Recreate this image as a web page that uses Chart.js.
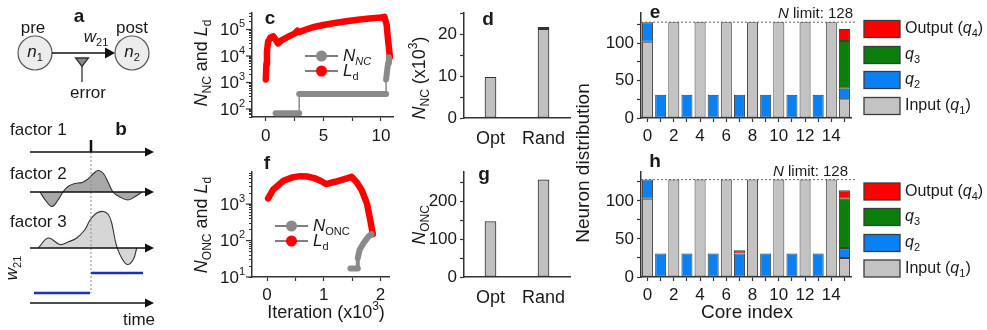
<!DOCTYPE html>
<html><head><meta charset="utf-8"><title>Neuron mapping figure</title>
<script src="https://cdn.jsdelivr.net/npm/chart.js@4.4.1/dist/chart.umd.min.js"></script>
<style>
html,body{margin:0;padding:0;background:#fff;}
#wrap{position:relative;width:987px;height:330px;overflow:hidden;background:#fff;}
#wrap canvas{position:absolute;}
</style></head><body>
<div id="wrap">
 <canvas id="cAB" width="190" height="330" style="left:0px;top:0px"></canvas>
 <canvas id="cC" width="215" height="160" style="left:190px;top:0px"></canvas>
 <canvas id="cF" width="215" height="180" style="left:190px;top:150px"></canvas>
 <canvas id="cD" width="175" height="160" style="left:405px;top:0px"></canvas>
 <canvas id="cG" width="175" height="180" style="left:405px;top:150px"></canvas>
 <canvas id="cE" width="422" height="160" style="left:565px;top:0px"></canvas>
 <canvas id="cH" width="422" height="255" style="left:565px;top:75px"></canvas>
</div>
<script>
// ================= DATA =================
// panel b schematic curves (time units, amplitude units)
const f2Time = [1.0, 1.6, 2.2, 2.8, 3.3, 3.8, 4.5, 5.2, 5.8, 6.3, 6.8, 7.3, 7.8, 8.3, 8.9, 9.8, 10.6, 11.2];
const f2Amp  = [0, -0.9, -1.45, -0.8, 0, 0.55, 0.85, 0.95, 1.3, 1.8, 2.15, 1.9, 1.0, 0, -0.45, -0.8, -0.4, 0];
const f3Time = [0.83, 1.83, 3.0, 3.8, 4.67, 5.5, 6.0, 6.67, 7.33, 7.83, 8.17, 8.5, 8.73, 9.17, 9.73, 10.33, 10.67];
const f3Amp  = [0, 1.0, 0.35, 0.6, 1.0, 1.85, 2.8, 3.5, 3.65, 3.35, 2.5, 0.85, 0, -1.0, -1.65, -1.15, 0];
const f1SpikeTime = [6.1, 6.1];
const f1SpikeAmp  = [0, 1.2];
const w21Time = [0.4, 6.0, 6.1, 11.3];
const w21Val  = [1.0, 1.0, 3.0, 3.0];

// panel c (iteration x10^3)
const cIterLd = [0, 0.05, 0.1, 0.2, 0.4, 0.65, 0.85, 1.05, 1.4, 2.0, 2.5, 2.75, 2.9, 3.5, 4.2, 5, 6, 7, 8, 9, 10, 10.3, 10.5, 10.6, 10.7, 10.78];
const cLd     = [1300, 5000, 15000, 35000, 50000, 55000, 42000, 30000, 40000, 55000, 70000, 90000, 80000, 100000, 125000, 148000, 175000, 205000, 235000, 260000, 283000, 300000, 150000, 50000, 20000, 9000];
const cIterNC = [0.85, 2.9, 2.9, 10.45, 10.45, 10.55, 10.63, 10.7];
const cNNC    = [70, 70, 370, 370, 1300, 3000, 5500, 9000];

// panel f
const fIterLd = [0.02, 0.11, 0.29, 0.45, 0.58, 0.72, 0.85, 0.95, 1.04, 1.2, 1.35, 1.49, 1.58, 1.67, 1.76, 1.82, 1.865];
const fLd     = [1440, 2530, 4350, 5400, 5850, 5700, 5050, 4300, 3550, 4100, 4800, 5600, 4000, 2400, 1050, 365, 150];
const fIterONC = [1.47, 1.6, 1.6, 1.63, 1.7, 1.79, 1.84];
const fNONC    = [17, 17, 33, 55, 84, 130, 150];

// panels d, g
const methods = ['Opt', 'Rand'];
const dNNC  = [9.7, 21.6];     // x10^3
const gNONC = [147, 257];

// panels e, h
const cores = [0,1,2,3,4,5,6,7,8,9,10,11,12,13,14,15];
const nLimit = 128;
const eInput  = [102, null, 128, null, 128, null, 128, null, 128, null, 128, null, 128, null, 128, 25];
const eQ2     = [26, 31, null, 31, null, 31, null, 31, null, 31, null, 31, null, 31, null, 14];
const eQ3     = [null, null, null, null, null, null, null, null, null, null, null, null, null, null, null, 64];
const eOutput = [null, null, null, null, null, null, null, null, null, null, null, null, null, null, null, 16];
const hInput  = [103, null, 128, null, 128, null, 128, null, 128, null, 128, null, 128, null, 128, 25];
const hQ2     = [25, 31, null, 31, null, 31, null, 31, null, 31, null, 31, null, 31, null, 13];
const hQ3     = [null, null, null, null, null, null, null, null, null, null, null, null, null, null, null, 65];
const hOutput = [null, null, null, null, null, null, null, 4, null, null, null, null, null, null, null, 11];

// ================= HELPERS =================
const FONT = "'Liberation Sans', Arial, Helvetica, sans-serif";
Chart.defaults.font.family = FONT;
Chart.defaults.color = '#1a1a1a';
Chart.defaults.animation = false;
Chart.defaults.responsive = false;
Chart.defaults.plugins.legend.display = false;
Chart.defaults.plugins.tooltip.enabled = false;

function T(t, o) { return Object.assign({t: t}, o || {}); }
function drawRich(ctx, parts, x, y, o) {
  o = o || {};
  const size = o.size || 16;
  ctx.save();
  ctx.translate(x, y);
  if (o.rot) ctx.rotate(o.rot);
  const segs = parts.map(p => {
    const s = (p.sub || p.sup) ? Math.round(size * 0.66) : size;
    const font = (p.i ? 'italic ' : '') + ((p.b || o.bold) ? 'bold ' : '') + s + 'px ' + FONT;
    ctx.font = font;
    return {t: p.t, font: font, w: ctx.measureText(p.t).width, dy: p.sub ? size * 0.34 : (p.sup ? -size * 0.36 : 0)};
  });
  const total = segs.reduce((a, s) => a + s.w, 0);
  let sx = o.align === 'center' ? -total / 2 : (o.align === 'right' ? -total : 0);
  ctx.fillStyle = o.color || '#1a1a1a';
  ctx.textBaseline = 'middle';
  ctx.textAlign = 'left';
  segs.forEach(s => { ctx.font = s.font; ctx.fillText(s.t, sx, s.dy); sx += s.w; });
  ctx.restore();
}
function logTicks(min, max) {
  const out = [];
  for (let e = Math.floor(Math.log10(min)); e <= Math.ceil(Math.log10(max)); e++) {
    for (let m = 1; m <= 9; m++) {
      const v = m * Math.pow(10, e);
      if (v >= min * 0.999 && v <= max * 1.001) out.push(v);
    }
  }
  return out;
}
const GR = (len) => ({drawOnChartArea: false, drawTicks: true, tickLength: len, tickColor: '#333', tickWidth: 1.2});
const BD = () => ({display: true, color: '#333', width: 1.5});
const xy = (xs, ys, f) => xs.map((x, i) => ({x: x, y: f ? f(ys[i]) : ys[i]}));

function logLabelPlugin(size) {
  return {
    id: 'logLabels',
    afterDraw(chart) {
      const s = chart.scales.y, ctx = chart.ctx;
      s.ticks.forEach(t => {
        const e = Math.log10(t.value);
        if (Math.abs(e - Math.round(e)) > 1e-6) return;
        const y = s.getPixelForValue(t.value);
        ctx.save(); ctx.strokeStyle = '#333'; ctx.lineWidth = 1.2;
        ctx.beginPath(); ctx.moveTo(s.right - 6, y); ctx.lineTo(s.right, y); ctx.stroke(); ctx.restore();
        drawRich(ctx, [T('10'), T(String(Math.round(e)), {sup: 1})], s.right - 7, y + 1, {size: size, align: 'right'});
      });
    }
  };
}
function overlay(id, fn) { return {id: id, afterDraw(chart) { fn(chart.ctx, chart); }}; }
function legendLine(ctx, x1, x2, y, dotColor) {
  ctx.save();
  ctx.strokeStyle = '#555'; ctx.lineWidth = 1.5;
  ctx.beginPath(); ctx.moveTo(x1, y); ctx.lineTo(x2, y); ctx.stroke();
  ctx.fillStyle = dotColor;
  ctx.beginPath(); ctx.arc((x1 + x2) / 2, y, 5.5, 0, Math.PI * 2); ctx.fill();
  ctx.restore();
}

// ================= PANELS a, b =================
const bBase = {f1: 15.2, f2: 19.2, f3: 24.8, w: 30.3};
const bAxisEnd = 12.3;
function stepWithBreaks(ts, vs, base) {
  const out = [];
  ts.forEach((t, i) => {
    if (i > 0 && vs[i] !== vs[i - 1]) out.push({x: (t + ts[i - 1]) / 2, y: null});
    out.push({x: t, y: base - vs[i]});
  });
  return out;
}
new Chart(document.getElementById('cAB'), {
  type: 'line',
  data: {datasets: [
    {data: stepWithBreaks(w21Time, w21Val, bBase.w), borderColor: '#1f2fb8', borderWidth: 2.5, pointRadius: 0, spanGaps: false, fill: false},
    {data: xy(f1SpikeTime, f1SpikeAmp, a => bBase.f1 - a), borderColor: '#111', borderWidth: 2.5, pointRadius: 0, fill: false},
    {data: [{x: f1SpikeTime[0], y: bBase.f1 - f1SpikeAmp[1]}, {x: f1SpikeTime[0], y: bBase.w - w21Val[0]}], borderColor: '#8c8c8c', borderWidth: 1, borderDash: [2, 2], pointRadius: 0, fill: false},
    {data: xy(f2Time, f2Amp, a => bBase.f2 - a), borderColor: '#333', borderWidth: 1.1, backgroundColor: '#a8a8a8', fill: {value: bBase.f2}, tension: 0.4, pointRadius: 0},
    {data: xy(f3Time, f3Amp, a => bBase.f3 - a), borderColor: '#333', borderWidth: 1.1, backgroundColor: '#d6d6d6', fill: {value: bBase.f3}, tension: 0.4, pointRadius: 0}
  ]},
  options: {
    devicePixelRatio: 1,
    layout: {padding: 0},
    scales: {
      x: {type: 'linear', min: -3, max: 16, display: false},
      y: {type: 'linear', min: 0, max: 33, reverse: true, display: false}
    }
  },
  plugins: [{
    id: 'abDecor',
    afterDatasetsDraw(chart) {
      const ctx = chart.ctx, sx = chart.scales.x, sy = chart.scales.y;
      Object.values(bBase).forEach(b => {
        const y = sy.getPixelForValue(b), x1 = sx.getPixelForValue(0), x2 = sx.getPixelForValue(bAxisEnd);
        ctx.save(); ctx.strokeStyle = '#111'; ctx.fillStyle = '#111'; ctx.lineWidth = 1.5;
        ctx.beginPath(); ctx.moveTo(x1, y); ctx.lineTo(x2 - 6, y); ctx.stroke();
        ctx.beginPath(); ctx.moveTo(x2 + 1, y); ctx.lineTo(x2 - 8, y - 4.5); ctx.lineTo(x2 - 8, y + 4.5); ctx.closePath(); ctx.fill();
        ctx.restore();
      });
      ctx.save();
      ctx.fillStyle = '#ececec'; ctx.strokeStyle = '#555'; ctx.lineWidth = 1.2;
      [[35, 53], [132, 53]].forEach(p => { ctx.beginPath(); ctx.arc(p[0], p[1], 17, 0, Math.PI * 2); ctx.fill(); ctx.stroke(); });
      ctx.strokeStyle = '#111'; ctx.fillStyle = '#111'; ctx.lineWidth = 1.6;
      ctx.beginPath(); ctx.moveTo(52, 53); ctx.lineTo(107, 53); ctx.stroke();
      ctx.beginPath(); ctx.moveTo(115, 53); ctx.lineTo(105, 47.5); ctx.lineTo(105, 58.5); ctx.closePath(); ctx.fill();
      ctx.lineWidth = 1.3; ctx.strokeStyle = '#333';
      ctx.beginPath(); ctx.moveTo(82, 66); ctx.lineTo(82, 82); ctx.stroke();
      ctx.fillStyle = '#8a8a8a';
      ctx.beginPath(); ctx.moveTo(75.5, 58); ctx.lineTo(88.5, 58); ctx.lineTo(82, 66.5); ctx.closePath(); ctx.fill(); ctx.stroke();
      ctx.restore();
      const S = 17;
      drawRich(ctx, [T('a')], 79, 17, {size: 19, bold: 1, align: 'center'});
      drawRich(ctx, [T('pre')], 33, 28, {size: S, align: 'center'});
      drawRich(ctx, [T('post')], 132, 28, {size: S, align: 'center'});
      drawRich(ctx, [T('w', {i: 1}), T('21', {sub: 1})], 96, 37, {size: S, align: 'center'});
      drawRich(ctx, [T('n', {i: 1}), T('1', {sub: 1})], 35, 52, {size: S, align: 'center'});
      drawRich(ctx, [T('n', {i: 1}), T('2', {sub: 1})], 132, 52, {size: S, align: 'center'});
      drawRich(ctx, [T('error')], 88, 93, {size: S, align: 'center'});
      drawRich(ctx, [T('factor 1')], 10, 130, {size: S});
      drawRich(ctx, [T('b')], 121, 130, {size: 19, bold: 1, align: 'center'});
      drawRich(ctx, [T('factor 2')], 10, 174, {size: S});
      drawRich(ctx, [T('factor 3')], 10, 222, {size: S});
      drawRich(ctx, [T('w', {i: 1}), T('21', {sub: 1})], 12, 268, {size: S, align: 'center', rot: -Math.PI / 2});
      drawRich(ctx, [T('time')], 139, 320, {size: S, align: 'center'});
    }
  }]
});

// ================= PANEL c =================
new Chart(document.getElementById('cC'), {
  type: 'line',
  data: {datasets: [
    {label: 'N_NC', data: xy(cIterNC, cNNC), borderColor: '#8a8a8a', borderWidth: 6, pointRadius: 0, borderCapStyle: 'round', borderJoinStyle: 'round',
     segment: {borderWidth: s => (s.p0.parsed.x === s.p1.parsed.x ? 1.5 : 6)}},
    {label: 'L_d', data: xy(cIterLd, cLd), borderColor: '#ff0000', borderWidth: 6.5, pointRadius: 0, borderCapStyle: 'round', borderJoinStyle: 'round'}
  ]},
  options: {
    devicePixelRatio: 1,
    layout: {padding: {left: 0, right: 12, top: 13, bottom: 0}},
    scales: {
      x: {type: 'linear', min: -1.2, max: 11.05, afterFit: s => { s.height = 43; },
          afterBuildTicks: s => { s.ticks = [0, 2.5, 5, 7.5, 10].map(v => ({value: v})); },
          grid: GR(4), border: BD(), ticks: {font: {size: 17}, padding: 5, maxRotation: 0, autoSkip: false, callback: v => (v % 5 === 0 ? String(v) : '')}},
      y: {type: 'logarithmic', min: 50, max: 4.2e5, afterFit: s => { s.width = 62; },
          afterBuildTicks: s => { s.ticks = logTicks(50, 4.2e5).map(v => ({value: v})); },
          grid: GR(3), border: BD(), ticks: {autoSkip: false, callback: () => ''}}
    }
  },
  plugins: [logLabelPlugin(17), overlay('cDecor', ctx => {
    drawRich(ctx, [T('N', {i: 1}), T('NC', {sub: 1}), T(' and '), T('L', {i: 1}), T('d', {sub: 1})], 12, 63, {size: 18, align: 'center', rot: -Math.PI / 2});
    drawRich(ctx, [T('c')], 80, 19, {size: 19, bold: 1, align: 'center'});
    legendLine(ctx, 115, 148, 56, '#8a8a8a');
    legendLine(ctx, 115, 148, 71, '#ff0000');
    drawRich(ctx, [T('N', {i: 1}), T('NC', {sub: 1, i: 1})], 153, 56, {size: 17});
    drawRich(ctx, [T('L', {i: 1}), T('d', {sub: 1})], 153, 71, {size: 17});
  })]
});

// ================= PANEL f =================
new Chart(document.getElementById('cF'), {
  type: 'line',
  data: {datasets: [
    {label: 'N_ONC', data: xy(fIterONC, fNONC), borderColor: '#8a8a8a', borderWidth: 6, pointRadius: 0, borderCapStyle: 'round', borderJoinStyle: 'round',
     segment: {borderWidth: s => (s.p0.parsed.x === s.p1.parsed.x ? 4 : 6)}},
    {label: 'L_d', data: xy(fIterLd, fLd), borderColor: '#ff0000', borderWidth: 6.5, pointRadius: 0, borderCapStyle: 'round', borderJoinStyle: 'round'}
  ]},
  options: {
    devicePixelRatio: 1,
    layout: {padding: {left: 0, right: 16, top: 22, bottom: 0}},
    scales: {
      x: {type: 'linear', min: -0.265, max: 2.15, afterFit: s => { s.height = 53; },
          afterBuildTicks: s => { s.ticks = [0, 0.5, 1, 1.5, 2].map(v => ({value: v})); },
          grid: GR(4), border: BD(), ticks: {font: {size: 17}, padding: 4, maxRotation: 0, autoSkip: false, callback: v => (Number.isInteger(v) ? String(v) : '')}},
      y: {type: 'logarithmic', min: 10, max: 7600, afterFit: s => { s.width = 62; },
          afterBuildTicks: s => { s.ticks = logTicks(10, 7600).map(v => ({value: v})); },
          grid: GR(3), border: BD(), ticks: {autoSkip: false, callback: () => ''}}
    }
  },
  plugins: [logLabelPlugin(17), overlay('fDecor', ctx => {
    drawRich(ctx, [T('N', {i: 1}), T('ONC', {sub: 1}), T(' and '), T('L', {i: 1}), T('d', {sub: 1})], 12, 75, {size: 18, align: 'center', rot: -Math.PI / 2});
    drawRich(ctx, [T('f')], 77, 14, {size: 19, bold: 1, align: 'center'});
    legendLine(ctx, 85, 118, 76, '#8a8a8a');
    legendLine(ctx, 85, 118, 91, '#ff0000');
    drawRich(ctx, [T('N', {i: 1}), T('ONC', {sub: 1})], 123, 76, {size: 17});
    drawRich(ctx, [T('L', {i: 1}), T('d', {sub: 1})], 123, 91, {size: 17});
    drawRich(ctx, [T('Iteration (x10'), T('3', {sup: 1}), T(')')], 136, 163, {size: 18, align: 'center'});
  })]
});

// ================= PANELS d, g =================
function methodChart(id, values, L) {
  return new Chart(document.getElementById(id), {
    type: 'bar',
    data: {labels: methods, datasets: [{data: values, backgroundColor: '#c0c0c0', borderColor: '#333',
      borderWidth: c => (L.thickTop && c.dataIndex === 1 ? {top: 3, left: 1, right: 1, bottom: 1} : 1),
      borderSkipped: false, barThickness: 11}]},
    options: {
      devicePixelRatio: 1,
      layout: {padding: {left: 0, right: 10, top: L.top, bottom: 0}},
      scales: {
        x: {type: 'category', offset: true, afterFit: s => { s.height = L.xh; },
            grid: {drawOnChartArea: false, drawTicks: false}, border: BD(), ticks: {font: {size: 18}, padding: 10}},
        y: {type: 'linear', min: 0, max: L.max, afterFit: s => { s.width = 59; },
            afterBuildTicks: s => { s.ticks = L.ticks.map(v => ({value: v})); },
            grid: GR(4), border: BD(), ticks: {font: {size: 17}, padding: 3, autoSkip: false, callback: v => (L.labeled.includes(v) ? String(v) : '')}}
      }
    },
    plugins: [overlay(id + 'Decor', ctx => {
      drawRich(ctx, L.title, 15, L.titleY, {size: 18, align: 'center', rot: -Math.PI / 2});
      drawRich(ctx, [T(L.letter)], L.letterX, L.letterY, {size: 19, bold: 1, align: 'center'});
    })]
  });
}
methodChart('cD', dNNC, {top: 13, xh: 42, max: 25, ticks: [0, 5, 10, 15, 20, 25], labeled: [0, 10, 20], thickTop: true,
  title: [T('N', {i: 1}), T('NC', {sub: 1}), T(' (x10'), T('3', {sup: 1}), T(')')], titleY: 78, letter: 'd', letterX: 83, letterY: 20});
methodChart('cG', gNONC, {top: 22, xh: 53, max: 278, ticks: [0, 50, 100, 150, 200, 250], labeled: [0, 100, 200], thickTop: false,
  title: [T('N', {i: 1}), T('ONC', {sub: 1})], titleY: 75, letter: 'g', letterX: 79, letterY: 25});

// ================= PANELS e, h =================
const catColors = {input: '#c3c3c3', q2: '#0a80f5', q3: '#0a7d0a', out: '#ff0000'};
function coreChart(id, q1, q2, q3, q4, L) {
  const ds = (data, color) => ({data: data, backgroundColor: color, borderColor: '#3c3c3c', borderWidth: 1, borderSkipped: false, barPercentage: 0.84, categoryPercentage: 1});
  return new Chart(document.getElementById(id), {
    type: 'bar',
    data: {labels: cores.map(String), datasets: [ds(q1, catColors.input), ds(q2, catColors.q2), ds(q3, catColors.q3), ds(q4, catColors.out)]},
    options: {
      devicePixelRatio: 1,
      layout: {padding: {left: 0, right: 136, top: L.top, bottom: 0}},
      scales: {
        x: {type: 'category', stacked: true, offset: true, afterFit: s => { s.height = L.xh; },
            grid: Object.assign(GR(4), {offset: false}), border: BD(),
            ticks: {font: {size: 17}, padding: 4, maxRotation: 0, autoSkip: false, callback: (v, i) => (i % 2 === 0 && i < 15 ? String(cores[i]) : '')}},
        y: {type: 'linear', stacked: true, min: 0, max: L.max, afterFit: s => { s.width = 76; },
            afterBuildTicks: s => { s.ticks = [0, 25, 50, 75, 100, 125].map(v => ({value: v})); },
            grid: GR(4), border: BD(), ticks: {font: {size: 17}, padding: 3, autoSkip: false, callback: v => (v % 50 === 0 ? String(v) : '')}}
      }
    },
    plugins: [{
      id: id + 'Decor',
      afterDatasetsDraw(chart) {
        const ctx = chart.ctx, a = chart.chartArea, y = chart.scales.y.getPixelForValue(nLimit);
        ctx.save(); ctx.strokeStyle = '#666'; ctx.lineWidth = 1; ctx.setLineDash([2, 2]);
        ctx.beginPath(); ctx.moveTo(a.left, y); ctx.lineTo(a.right + 4, y); ctx.stroke(); ctx.restore();
      },
      afterDraw(chart) {
        const ctx = chart.ctx;
        drawRich(ctx, [T('N', {i: 1}), T(' limit: ' + nLimit)], L.limitX, L.limitY, {size: 15, align: 'right'});
        drawRich(ctx, [T(L.letter)], 90, L.letterY, {size: 19, bold: 1, align: 'center'});
        const items = [
          {c: catColors.out, parts: [T('Output ('), T('q', {i: 1}), T('4', {sub: 1}), T(')')]},
          {c: catColors.q3, parts: [T('q', {i: 1}), T('3', {sub: 1})]},
          {c: catColors.q2, parts: [T('q', {i: 1}), T('2', {sub: 1})]},
          {c: catColors.input, parts: [T('Input ('), T('q', {i: 1}), T('1', {sub: 1}), T(')')]}
        ];
        items.forEach((it, k) => {
          const yy = L.rows[k];
          ctx.save(); ctx.fillStyle = it.c; ctx.strokeStyle = '#3c3c3c'; ctx.lineWidth = 1.3;
          ctx.fillRect(299, yy - 8.5, 36, 17); ctx.strokeRect(299, yy - 8.5, 36, 17); ctx.restore();
          drawRich(ctx, it.parts, 340, yy, {size: 16});
        });
        if (L.extra) L.extra(ctx);
      }
    }]
  });
}
coreChart('cE', eInput, eQ2, eQ3, eOutput, {top: 13, xh: 42, max: 140, limitX: 288, limitY: 14, letter: 'e', letterY: 13, rows: [29, 55, 80, 106]});
coreChart('cH', hInput, hQ2, hQ3, hOutput, {top: 97, xh: 53, max: 138, limitX: 283, limitY: 97, letter: 'h', letterY: 87, rows: [116.5, 142, 168, 193.5],
  extra: ctx => {
    drawRich(ctx, [T('Neuron distribution')], 19, 88, {size: 19, align: 'center', rot: -Math.PI / 2});
    drawRich(ctx, [T('Core index')], 182, 238, {size: 19, align: 'center'});
  }});
</script>
</body></html>
